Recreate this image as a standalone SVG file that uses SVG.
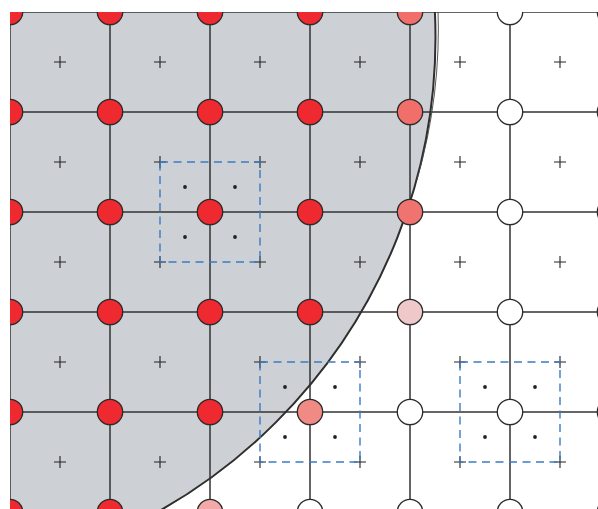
<svg xmlns="http://www.w3.org/2000/svg" width="598" height="509" viewBox="0 0 598 509">
<style>
.grid{stroke:#333;stroke-width:1.5;fill:none}
.plus{stroke:#222;stroke-width:1.1}
.box{fill:none;stroke:#3b7bc2;stroke-width:1.4;stroke-dasharray:8 5.5}
.dot{fill:#222}
.n{stroke:#2a2a2a;stroke-width:1.3}
.r{fill:#ee2a30}
.w{fill:#fff}
</style>
<defs>
<clipPath id="clip"><rect x="10" y="12" width="600" height="510"/></clipPath>
<path id="p" d="M-6,0H6M0,-6V6"/>
</defs>
<rect width="598" height="509" fill="#fff"/>
<g clip-path="url(#clip)">
<g id="region">
<circle cx="-108" cy="37.6" r="543.5" fill="#cdd0d5"/>
</g>
<g id="connectors">
<path class="grid" d="M10,12V520M110,12V520M210,12V520M310,12V520M410,12V520M510,12V520M10,12H610M10,112H610M10,212H610M10,312H610M10,412H610M10,512H610"/>
</g>
<g id="region-edge">
<circle cx="-108" cy="37.6" r="543.5" fill="none" stroke="#2e2e2e" stroke-width="2"/>
<path d="M437.9,6 A546.1,546.1 0 0 1 416.9,180" fill="none" stroke="#444" stroke-width="0.9"/>
</g>
<g id="centers">
<use href="#p" class="plus" x="60" y="62"/><use href="#p" class="plus" x="160" y="62"/><use href="#p" class="plus" x="260" y="62"/><use href="#p" class="plus" x="360" y="62"/><use href="#p" class="plus" x="460" y="62"/><use href="#p" class="plus" x="560" y="62"/>
<use href="#p" class="plus" x="60" y="162"/><use href="#p" class="plus" x="160" y="162"/><use href="#p" class="plus" x="260" y="162"/><use href="#p" class="plus" x="360" y="162"/><use href="#p" class="plus" x="460" y="162"/><use href="#p" class="plus" x="560" y="162"/>
<use href="#p" class="plus" x="60" y="262"/><use href="#p" class="plus" x="160" y="262"/><use href="#p" class="plus" x="260" y="262"/><use href="#p" class="plus" x="360" y="262"/><use href="#p" class="plus" x="460" y="262"/><use href="#p" class="plus" x="560" y="262"/>
<use href="#p" class="plus" x="60" y="362"/><use href="#p" class="plus" x="160" y="362"/><use href="#p" class="plus" x="260" y="362"/><use href="#p" class="plus" x="360" y="362"/><use href="#p" class="plus" x="460" y="362"/><use href="#p" class="plus" x="560" y="362"/>
<use href="#p" class="plus" x="60" y="462"/><use href="#p" class="plus" x="160" y="462"/><use href="#p" class="plus" x="260" y="462"/><use href="#p" class="plus" x="360" y="462"/><use href="#p" class="plus" x="460" y="462"/><use href="#p" class="plus" x="560" y="462"/>
</g>
<g id="box1">
<rect class="box" x="160" y="162" width="100" height="100"/>
<circle class="dot" cx="185" cy="187" r="1.9"/><circle class="dot" cx="235" cy="187" r="1.9"/><circle class="dot" cx="185" cy="237" r="1.9"/><circle class="dot" cx="235" cy="237" r="1.9"/>
</g>
<g id="box2">
<rect class="box" x="260" y="362" width="100" height="100"/>
<circle class="dot" cx="285" cy="387" r="1.9"/><circle class="dot" cx="335" cy="387" r="1.9"/><circle class="dot" cx="285" cy="437" r="1.9"/><circle class="dot" cx="335" cy="437" r="1.9"/>
</g>
<g id="box3">
<rect class="box" x="460" y="362" width="100" height="100"/>
<circle class="dot" cx="485" cy="387" r="1.9"/><circle class="dot" cx="535" cy="387" r="1.9"/><circle class="dot" cx="485" cy="437" r="1.9"/><circle class="dot" cx="535" cy="437" r="1.9"/>
</g>
<g id="nodes">
<g id="n-0-0"><circle class="n r" cx="10" cy="12" r="12.7"/></g>
<g id="n-1-0"><circle class="n r" cx="110" cy="12" r="12.7"/></g>
<g id="n-2-0"><circle class="n r" cx="210" cy="12" r="12.7"/></g>
<g id="n-3-0"><circle class="n r" cx="310" cy="12" r="12.7"/></g>
<g id="n-4-0"><circle class="n" fill="#f06f6b" cx="410" cy="12" r="12.7"/></g>
<g id="n-5-0"><circle class="n w" cx="510" cy="12" r="12.7"/></g>
<g id="n-6-0"><circle class="n w" cx="610" cy="12" r="12.7"/></g>
<g id="n-0-1"><circle class="n r" cx="10" cy="112" r="12.7"/></g>
<g id="n-1-1"><circle class="n r" cx="110" cy="112" r="12.7"/></g>
<g id="n-2-1"><circle class="n r" cx="210" cy="112" r="12.7"/></g>
<g id="n-3-1"><circle class="n r" cx="310" cy="112" r="12.7"/></g>
<g id="n-4-1"><circle class="n" fill="#f06f6b" cx="410" cy="112" r="12.7"/></g>
<g id="n-5-1"><circle class="n w" cx="510" cy="112" r="12.7"/></g>
<g id="n-6-1"><circle class="n w" cx="610" cy="112" r="12.7"/></g>
<g id="n-0-2"><circle class="n r" cx="10" cy="212" r="12.7"/></g>
<g id="n-1-2"><circle class="n r" cx="110" cy="212" r="12.7"/></g>
<g id="n-2-2"><circle class="n r" cx="210" cy="212" r="12.7"/></g>
<g id="n-3-2"><circle class="n r" cx="310" cy="212" r="12.7"/></g>
<g id="n-4-2"><circle class="n" fill="#ef7470" cx="410" cy="212" r="12.7"/></g>
<g id="n-5-2"><circle class="n w" cx="510" cy="212" r="12.7"/></g>
<g id="n-6-2"><circle class="n w" cx="610" cy="212" r="12.7"/></g>
<g id="n-0-3"><circle class="n r" cx="10" cy="312" r="12.7"/></g>
<g id="n-1-3"><circle class="n r" cx="110" cy="312" r="12.7"/></g>
<g id="n-2-3"><circle class="n r" cx="210" cy="312" r="12.7"/></g>
<g id="n-3-3"><circle class="n r" cx="310" cy="312" r="12.7"/></g>
<g id="n-4-3"><circle class="n" fill="#efc9c9" cx="410" cy="312" r="12.7"/></g>
<g id="n-5-3"><circle class="n w" cx="510" cy="312" r="12.7"/></g>
<g id="n-6-3"><circle class="n w" cx="610" cy="312" r="12.7"/></g>
<g id="n-0-4"><circle class="n r" cx="10" cy="412" r="12.7"/></g>
<g id="n-1-4"><circle class="n r" cx="110" cy="412" r="12.7"/></g>
<g id="n-2-4"><circle class="n r" cx="210" cy="412" r="12.7"/></g>
<g id="n-3-4"><circle class="n" fill="#f08a85" cx="310" cy="412" r="12.7"/></g>
<g id="n-4-4"><circle class="n w" cx="410" cy="412" r="12.7"/></g>
<g id="n-5-4"><circle class="n w" cx="510" cy="412" r="12.7"/></g>
<g id="n-6-4"><circle class="n w" cx="610" cy="412" r="12.7"/></g>
<g id="n-0-5"><circle class="n r" cx="10" cy="512" r="12.7"/></g>
<g id="n-1-5"><circle class="n r" cx="110" cy="512" r="12.7"/></g>
<g id="n-2-5"><circle class="n" fill="#f2a9a7" cx="210" cy="512" r="12.7"/></g>
<g id="n-3-5"><circle class="n w" cx="310" cy="512" r="12.7"/></g>
<g id="n-4-5"><circle class="n w" cx="410" cy="512" r="12.7"/></g>
<g id="n-5-5"><circle class="n w" cx="510" cy="512" r="12.7"/></g>
<g id="n-6-5"><circle class="n w" cx="610" cy="512" r="12.7"/></g>
</g>
</g>
</svg>
